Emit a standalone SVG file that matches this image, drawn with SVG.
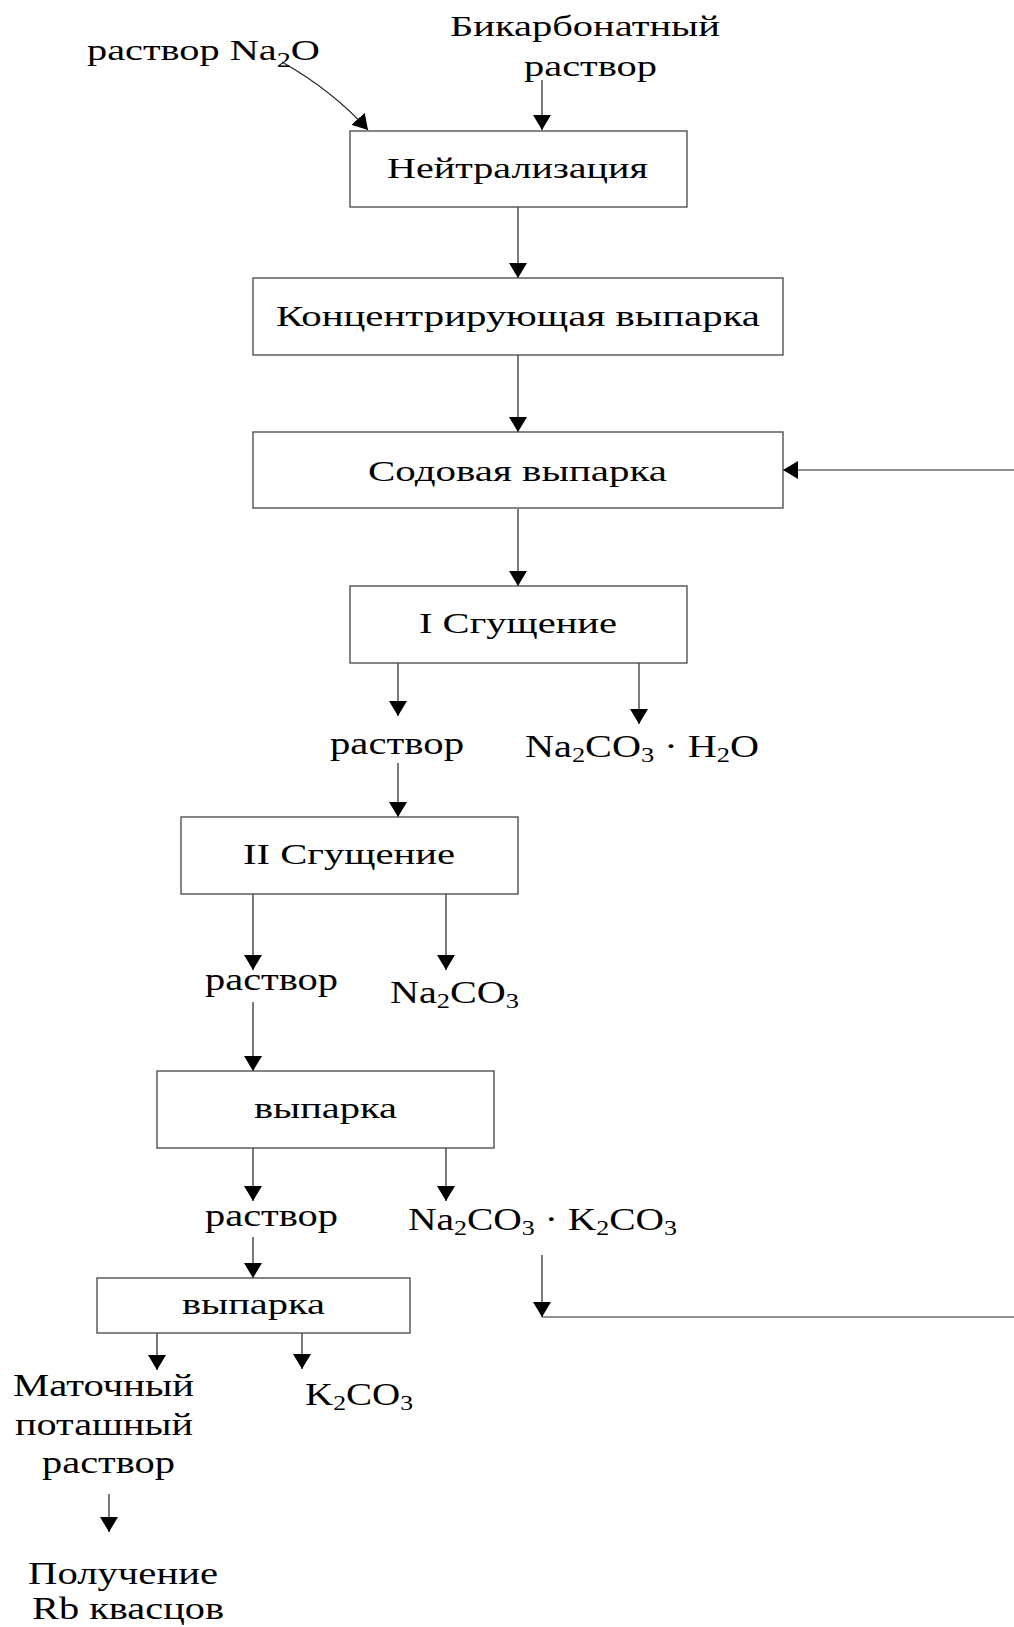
<svg xmlns="http://www.w3.org/2000/svg" width="1014" height="1627" viewBox="0 0 1014 1627">
  <style>
    text { font-family: "Liberation Serif", "Times New Roman", serif; fill: #000; }
    .lbl { font-size: 30px; }
    .out { font-size: 32px; }
    .sub { font-size: 21px; }
    .box { fill: #fff; stroke: #444; stroke-width: 1.3; }
    .ln { fill: none; stroke: #222; stroke-width: 1.2; }
  </style>
  <defs>
    <marker id="arr" markerUnits="userSpaceOnUse" markerWidth="16" markerHeight="19" refX="15" refY="9" orient="auto">
      <path d="M0,0 L15,9 L0,18 Z" fill="#000"/>
    </marker>
  </defs>
  <rect width="1014" height="1627" fill="#fff"/>

  <!-- connectors -->
  <g id="connectors">
    <path class="ln" d="M282,62 Q333,91 368,130" marker-end="url(#arr)"/>
    <path class="ln" d="M542,80 V130" marker-end="url(#arr)"/>
    <path class="ln" d="M518,207 V278" marker-end="url(#arr)"/>
    <path class="ln" d="M518,355 V432" marker-end="url(#arr)"/>
    <path class="ln" d="M1014,470 H783" marker-end="url(#arr)"/>
    <path class="ln" d="M518,509 V586" marker-end="url(#arr)"/>
    <path class="ln" d="M398,663 V716" marker-end="url(#arr)"/>
    <path class="ln" d="M639,663 V724" marker-end="url(#arr)"/>
    <path class="ln" d="M398,763 V817" marker-end="url(#arr)"/>
    <path class="ln" d="M253,894 V970" marker-end="url(#arr)"/>
    <path class="ln" d="M446,894 V970" marker-end="url(#arr)"/>
    <path class="ln" d="M253,1002 V1071" marker-end="url(#arr)"/>
    <path class="ln" d="M253,1148 V1201" marker-end="url(#arr)"/>
    <path class="ln" d="M446,1148 V1201" marker-end="url(#arr)"/>
    <path class="ln" d="M253,1237 V1278" marker-end="url(#arr)"/>
    <path class="ln" d="M542,1255 V1317" marker-end="url(#arr)"/>
    <path class="ln" d="M542,1317 H1014"/>
    <path class="ln" d="M157,1333 V1370" marker-end="url(#arr)"/>
    <path class="ln" d="M302,1333 V1369" marker-end="url(#arr)"/>
    <path class="ln" d="M109,1494 V1532" marker-end="url(#arr)"/>
  </g>

  <!-- inputs -->
  <g id="in-na2o">
    <text class="lbl" x="87" y="60" textLength="233" lengthAdjust="spacingAndGlyphs">раствор Na<tspan class="sub" dy="7">2</tspan><tspan dy="-7">O</tspan></text>
  </g>
  <g id="in-bicarb">
    <text class="lbl" x="450" y="36" textLength="270" lengthAdjust="spacingAndGlyphs">Бикарбонатный</text>
    <text class="lbl" x="524" y="76" textLength="133" lengthAdjust="spacingAndGlyphs">раствор</text>
  </g>

  <!-- process steps -->
  <g id="neutralization">
    <rect class="box" x="350" y="131" width="337" height="76"/>
    <text class="lbl" x="387" y="178" textLength="261" lengthAdjust="spacingAndGlyphs">Нейтрализация</text>
  </g>
  <g id="conc-evap">
    <rect class="box" x="253" y="278" width="530" height="77"/>
    <text class="lbl" x="276" y="326" textLength="484" lengthAdjust="spacingAndGlyphs">Концентрирующая выпарка</text>
  </g>
  <g id="soda-evap">
    <rect class="box" x="253" y="432" width="530" height="76"/>
    <text class="lbl" x="368" y="481" textLength="299" lengthAdjust="spacingAndGlyphs">Содовая выпарка</text>
  </g>
  <g id="thick-1">
    <rect class="box" x="350" y="586" width="337" height="77"/>
    <text class="lbl" x="419" y="633" textLength="198" lengthAdjust="spacingAndGlyphs">I Сгущение</text>
  </g>
  <g id="sol-1">
    <text class="out" x="330" y="754" textLength="134" lengthAdjust="spacingAndGlyphs">раствор</text>
  </g>
  <g id="prod-1">
    <text class="out" x="525" y="757" textLength="234" lengthAdjust="spacingAndGlyphs">Na<tspan class="sub" dy="5">2</tspan><tspan dy="-5">CO</tspan><tspan class="sub" dy="5">3</tspan><tspan dy="-5"> · H</tspan><tspan class="sub" dy="5">2</tspan><tspan dy="-5">O</tspan></text>
  </g>
  <g id="thick-2">
    <rect class="box" x="181" y="817" width="337" height="77"/>
    <text class="lbl" x="243" y="864" textLength="212" lengthAdjust="spacingAndGlyphs">II Сгущение</text>
  </g>
  <g id="sol-2">
    <text class="out" x="205" y="990" textLength="133" lengthAdjust="spacingAndGlyphs">раствор</text>
  </g>
  <g id="prod-2">
    <text class="out" x="390" y="1003" textLength="129" lengthAdjust="spacingAndGlyphs">Na<tspan class="sub" dy="5">2</tspan><tspan dy="-5">CO</tspan><tspan class="sub" dy="5">3</tspan></text>
  </g>
  <g id="evap-1">
    <rect class="box" x="157" y="1071" width="337" height="77"/>
    <text class="lbl" x="254" y="1118" textLength="143" lengthAdjust="spacingAndGlyphs">выпарка</text>
  </g>
  <g id="sol-3">
    <text class="out" x="205" y="1226" textLength="133" lengthAdjust="spacingAndGlyphs">раствор</text>
  </g>
  <g id="prod-3">
    <text class="out" x="408" y="1230" textLength="269" lengthAdjust="spacingAndGlyphs">Na<tspan class="sub" dy="5">2</tspan><tspan dy="-5">CO</tspan><tspan class="sub" dy="5">3</tspan><tspan dy="-5"> · K</tspan><tspan class="sub" dy="5">2</tspan><tspan dy="-5">CO</tspan><tspan class="sub" dy="5">3</tspan></text>
  </g>
  <g id="evap-2">
    <rect class="box" x="97" y="1278" width="313" height="55"/>
    <text class="lbl" x="182" y="1314" textLength="143" lengthAdjust="spacingAndGlyphs">выпарка</text>
  </g>
  <g id="mother-liquor">
    <text class="out" x="13" y="1396" textLength="181" lengthAdjust="spacingAndGlyphs">Маточный</text>
    <text class="out" x="15" y="1435" textLength="178" lengthAdjust="spacingAndGlyphs">поташный</text>
    <text class="out" x="42" y="1473" textLength="133" lengthAdjust="spacingAndGlyphs">раствор</text>
  </g>
  <g id="prod-k2co3">
    <text class="out" x="305" y="1405" textLength="108" lengthAdjust="spacingAndGlyphs">K<tspan class="sub" dy="5">2</tspan><tspan dy="-5">CO</tspan><tspan class="sub" dy="5">3</tspan></text>
  </g>
  <g id="rb-alum">
    <text class="out" x="28" y="1584" textLength="190" lengthAdjust="spacingAndGlyphs">Получение</text>
    <text class="out" x="32" y="1619" textLength="192" lengthAdjust="spacingAndGlyphs">Rb квасцов</text>
  </g>
</svg>
